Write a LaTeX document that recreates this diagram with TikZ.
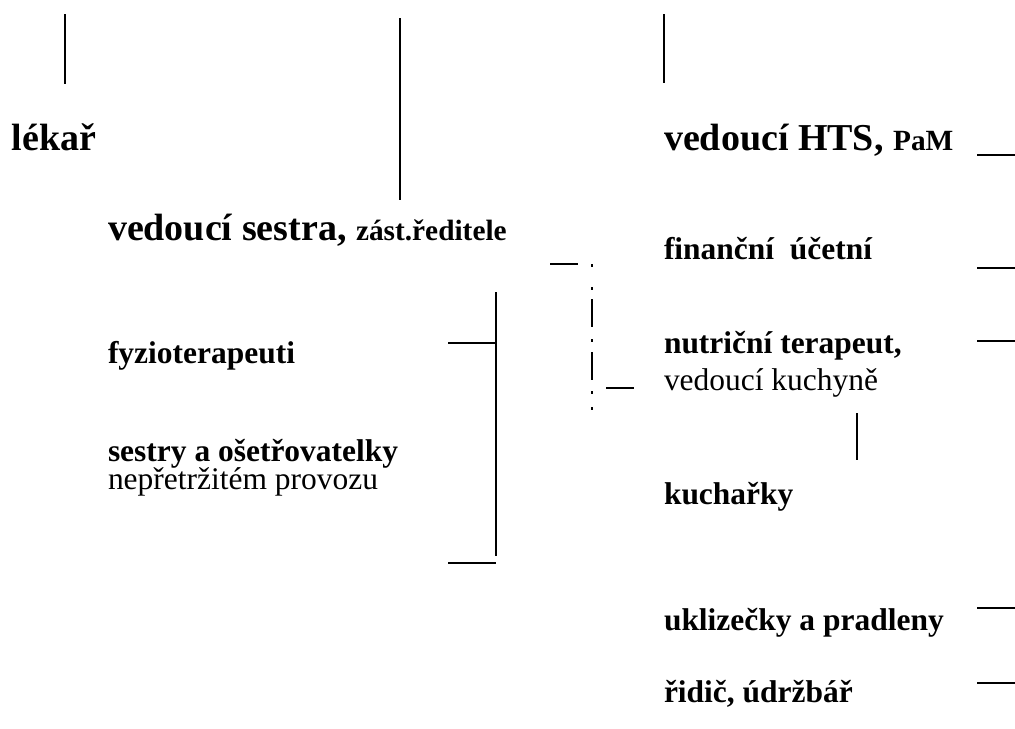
\documentclass[tikz,border=0pt]{standalone}
\usepackage{fontspec}
\setmainfont{Liberation Serif}
\begin{document}
\begin{tikzpicture}[x=0.75pt,y=-0.75pt,
  ln/.style={line width=1.35pt},
  lbl/.style={anchor=base west,inner sep=0pt,outer sep=0pt},
  big/.style={lbl,font=\fontsize{28.5}{34}\selectfont\bfseries},
  mid/.style={lbl,font=\fontsize{23.6}{28}\selectfont\bfseries},
  reg/.style={lbl,font=\fontsize{23.6}{28}\selectfont}]
\newcommand{\smallbold}{\fontsize{22}{26}\selectfont}
\useasboundingbox (0,0) rectangle (1015,729);
% texts
\node[big] (lekar) at (12,150) {lékař};
\node[big] (hts) at (664,150) {vedoucí HTS, {\smallbold PaM}};
\node[big] (vs) at (108,240) {vedoucí sestra, {\smallbold zást.ředitele}};
\node[mid] (fin) at (664,259) {finanční\ \ účetní};
\node[mid] (fyz) at (108,363) {fyzioterapeuti};
\node[mid] (nut) at (664,353) {nutriční terapeut,};
\node[reg] (kuch) at (664,390) {vedoucí kuchyně};
\node[mid] (ses) at (108,461) {sestry a ošetřovatelky};
\node[reg] (nep) at (108,489) {nepřetržitém provozu};
\node[mid] (kuc) at (664,504) {kuchařky};
\node[mid] (ukl) at (664,630) {uklizečky a pradleny};
\node[mid] (rid) at (664,702) {řidič, údržbář};
% vertical stubs at top
\draw[ln] (65,14) -- (65,84);
\draw[ln] (400,18) -- (400,200);
\draw[ln] (664,14) -- (664,83);
% right stubs
\draw[ln] (977,155) -- (1015,155);
\draw[ln] (977,268) -- (1015,268);
\draw[ln] (977,341) -- (1015,341);
\draw[ln] (977,608) -- (1015,608);
\draw[ln] (977,683) -- (1015,683);
% nurse bracket
\draw[ln] (496,292) -- (496,556);
\draw[ln] (448,343) -- (496,343);
\draw[ln] (448,563) -- (496,563);
% kitchen connector
\draw[ln] (857,413) -- (857,460);
% dash-dot group
\draw[ln] (550,264) -- (578,264);
\draw[ln] (606,388) -- (634,388);
\foreach \y in {264,287,339,391,407} \draw[ln] (592,\y) -- (592,\y+2.5);
\draw[ln] (592,299) -- (592,327);
\draw[ln] (592,352) -- (592,380);
\end{tikzpicture}
\end{document}
